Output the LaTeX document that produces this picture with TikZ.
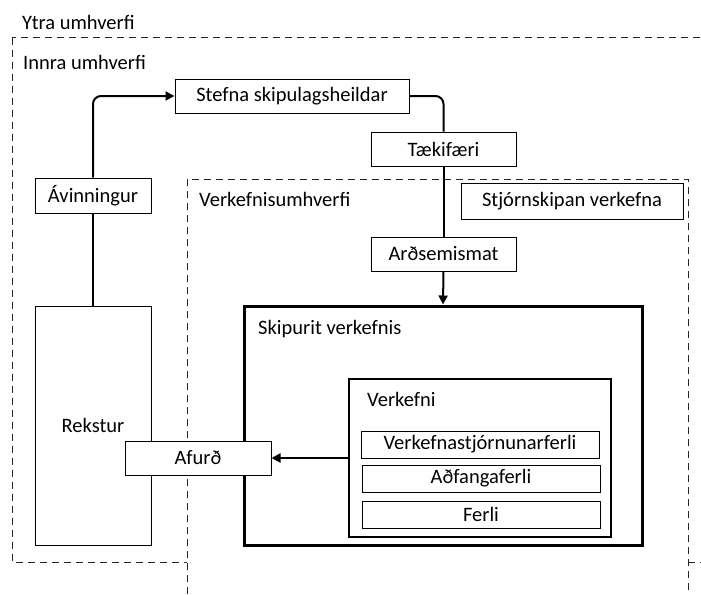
\documentclass[tikz,border=0pt]{standalone}
\usepackage{fontspec}
\setmainfont{Carlito}
\usetikzlibrary{arrows.meta}
\begin{document}
\begin{tikzpicture}[x=1pt,y=-1pt,
  font=\fontsize{20.5}{24}\selectfont,
  box/.style={draw=black, fill=white, line width=1pt, inner sep=0pt, align=center},
  thickbox/.style={draw=black, fill=white, line width=3pt, inner sep=0pt},
  region/.style={draw=black!85, dash pattern=on 7pt off 5pt, line width=1pt},
  conn/.style={draw=black, line width=2pt},
  arr/.style={conn, -{Triangle[length=9pt,width=9pt]}},
  lbl/.style={anchor=west, inner sep=0pt}
]
\useasboundingbox (0,0) rectangle (701,594);
\begin{scope}
\clip (0,0) rectangle (701,594);
% regions
\draw[region] (12,38) rectangle (720,562);
\draw[region, fill=white] (187,179) rectangle (688,620);
\node[lbl] (ytra) at (22,22) {Ytra umhverfi};
\node[lbl] (innra) at (23,62) {Innra umhverfi};
\node[lbl] (vumh) at (199,199) {Verkefnisumhverfi};

% boxes
\node[box, minimum width=234pt, minimum height=34pt] (stefna) at (292,96) {Stefna skipulagsheildar};
\node[box, minimum width=145pt, minimum height=34pt] (taek) at (443.5,149) {Tækifæri};
\node[box, minimum width=145pt, minimum height=34pt] (ards) at (443.5,254) {Arðsemismat};
\node[box, minimum width=222pt, minimum height=36pt] (stjorn) at (572,201) {Stjórnskipan verkefna};
\node[box, minimum width=116pt, minimum height=35pt] (avin) at (93,195.5) {Ávinningur};
\node[box, minimum width=116pt, minimum height=239pt] (rekstur) at (93,425.5) {Rekstur};

\node[thickbox, minimum width=398pt, minimum height=239pt] (skip) at (443,425.5) {};
\node[lbl] (skiplbl) at (258,329) {Skipurit verkefnis};
\node[thickbox, line width=2.5pt, minimum width=262pt, minimum height=158pt] (verk) at (480,458) {};
\node[lbl] (verklbl) at (367,399) {Verkefni};
\node[box, minimum width=238pt, minimum height=27pt] (vsf) at (480,444.5) {Verkefnastjórnunarferli};
\node[box, minimum width=238pt, minimum height=27pt] (adf) at (481,478.5) {Aðfangaferli};
\node[box, minimum width=238pt, minimum height=27pt] (ferli) at (481,514.5) {Ferli};

% connectors
\draw[conn] (rekstur.north) -- (avin.south);
\draw[arr, rounded corners=8pt] (avin.north) |- (stefna.west);
\draw[conn, rounded corners=8pt] (stefna.east) -| (taek.north);
\draw[conn] (taek.south) -- (ards.north);
\draw[arr] (ards.south) -- (skip.north);

\node[box, minimum width=146pt, minimum height=34pt] (afurd) at (198,458) {Afurð};
\draw[arr] (verk.west) -- (afurd.east);
\end{scope}
\end{tikzpicture}
\end{document}
